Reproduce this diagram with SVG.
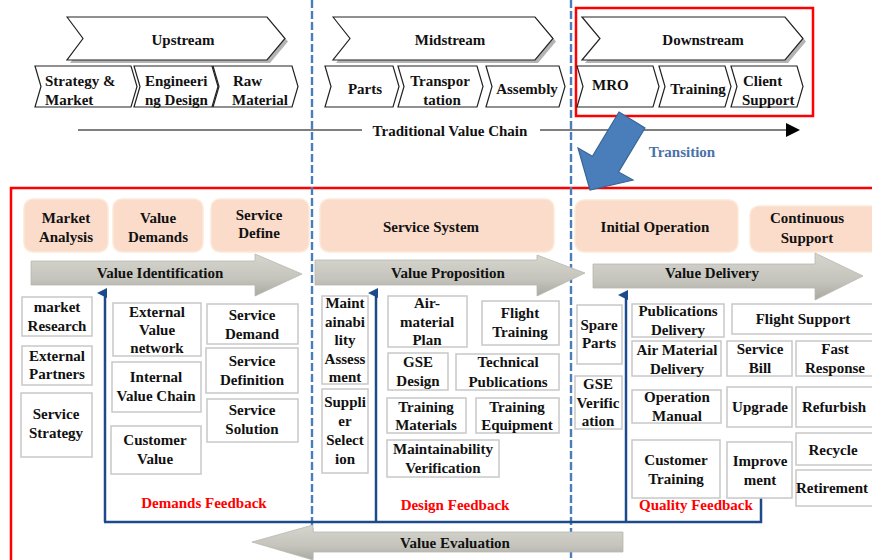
<svg xmlns="http://www.w3.org/2000/svg" width="872" height="560" viewBox="0 0 872 560">
<defs>
<style>
.t{font-family:"Liberation Serif","Times New Roman",serif;font-weight:bold;font-size:15px;fill:#111;text-anchor:middle}
.ts{text-anchor:start}
.red{fill:#ff0000}
.chev{fill:#fff;stroke:#222;stroke-width:1.2}
.shadow{fill:#b4b4b4}
.peach{fill:#fbdccb;stroke:#fce9d6;stroke-width:1.5}
.box{fill:#fff;stroke:#c8c8c8;stroke-width:1.5}
.gray{fill:url(#gg);stroke:#b8b8b0;stroke-width:0.8}
.dash{stroke:#4a7ebb;stroke-width:2.4;stroke-dasharray:8 3;fill:none}
.navy{stroke:#1c4b8c;stroke-width:2.5;fill:none}
</style>
<linearGradient id="gg" x1="0" y1="0" x2="0" y2="1">
<stop offset="0" stop-color="#d6d6ce"/>
<stop offset="0.6" stop-color="#c4c4bc"/>
<stop offset="1" stop-color="#a9a9a1"/>
</linearGradient>
<marker id="na" markerWidth="10" markerHeight="10" refX="5" refY="8" orient="auto" markerUnits="userSpaceOnUse" viewBox="0 0 10 10">
<path d="M0,10 L5,0 L10,10 Z" fill="#1c4b8c"/>
</marker>
<marker id="ka" markerWidth="14" markerHeight="14" refX="12" refY="7" orient="auto" markerUnits="userSpaceOnUse" viewBox="0 0 14 14">
<path d="M0,0 L14,7 L0,14 Z" fill="#000"/>
</marker>
</defs>
<rect width="872" height="560" fill="#fff"/>

<g id="frames">
<rect x="576" y="8" width="237" height="108" fill="none" stroke="#ff0000" stroke-width="2.5"/>
<rect x="11" y="188" width="880" height="400" fill="none" stroke="#ff0000" stroke-width="2.5"/>
</g>

<g id="dividers">
<line x1="312" y1="0" x2="312" y2="560" class="dash"/>
<line x1="571" y1="0" x2="571" y2="560" class="dash"/>
</g>

<g id="traditional-chain">
<line x1="78" y1="130" x2="362" y2="130" stroke="#555" stroke-width="1.5"/>
<line x1="540" y1="130" x2="798" y2="130" stroke="#555" stroke-width="1.5" marker-end="url(#ka)"/>
<text class="t" x="450" y="136">Traditional Value Chain</text>
</g>

<g id="upstream">
<polygon class="shadow" points="70,20 86,41.5 70,63 270,63 288,41.5 270,20"/>
<polygon class="chev" points="67,17 83,38.5 67,60 267,60 285,38.5 267,17"/>
<text class="t" x="183" y="45">Upstream</text>
</g>
<g id="strategy-market">
<polygon class="chev" points="35,66 41,86.5 35,107 131,107 137,86.5 131,66"/>
<text class="t ts" x="45" y="86">Strategy &amp;<tspan x="45" dy="19">Market</tspan></text>
</g>
<g id="engineering-design">
<polygon class="chev" points="134,66 140,86.5 134,107 212,107 218,86.5 212,66"/>
<text class="t ts" x="145" y="86">Engineeri<tspan x="145" dy="19">ng Design</tspan></text>
</g>
<g id="raw-material">
<polygon class="chev" points="213,66 219,86.5 213,107 292,107 298,86.5 292,66"/>
<text class="t ts" x="233" y="86">Raw<tspan x="232" dy="19">Material</tspan></text>
</g>

<g id="midstream">
<polygon class="shadow" points="336,20 353,41.5 336,63 538,63 556,41.5 538,20"/>
<polygon class="chev" points="333,17 350,38.5 333,60 535,60 553,38.5 535,17"/>
<text class="t" x="450" y="45">Midstream</text>
</g>
<g id="parts">
<polygon class="chev" points="325,66 331,86.5 325,107 393,107 399,86.5 393,66"/>
<text class="t" x="365" y="94">Parts</text>
</g>
<g id="transportation">
<polygon class="chev" points="398,66 404,86.5 398,107 477,107 483,86.5 477,66"/>
<text class="t" x="440" y="86">Transpor<tspan x="442" dy="19">tation</tspan></text>
</g>
<g id="assembly">
<polygon class="chev" points="486,66 492,86.5 486,107 559,107 565,86.5 559,66"/>
<text class="t" x="527" y="94">Assembly</text>
</g>

<g id="downstream">
<polygon class="shadow" points="585,20 603,41.5 585,63 788,63 806,41.5 788,20"/>
<polygon class="chev" points="582,17 600,38.5 582,60 785,60 803,38.5 785,17"/>
<text class="t" x="703" y="45">Downstream</text>
</g>
<g id="mro">
<polygon class="chev" points="577,66 583,86.5 577,107 653,107 659,86.5 653,66"/>
<text class="t ts" x="592" y="90">MRO</text>
</g>
<g id="training">
<polygon class="chev" points="659,66 665,86.5 659,107 725,107 731,86.5 725,66"/>
<text class="t" x="698" y="94">Training</text>
</g>
<g id="client-support">
<polygon class="chev" points="731,66 737,86.5 731,107 797,107 803,86.5 797,66"/>
<text class="t ts" x="743" y="86">Client<tspan x="742" dy="19">Support</tspan></text>
</g>

<g id="transition">
<polygon points="619,112 645,128 618.6,171.9 633,180 590,190 578,148 592.4,156.3" fill="#4a7ebb" stroke="#3a6494" stroke-width="1.2"/>
<text class="t" x="682" y="157" style="fill:#4a72a8">Transition</text>
</g>

<g id="stages">
<g id="market-analysis"><rect class="peach" x="24" y="199" width="84" height="53" rx="9"/><text class="t" x="66" y="223">Market<tspan x="66" dy="19">Analysis</tspan></text></g>
<g id="value-demands"><rect class="peach" x="113" y="199" width="90" height="53" rx="9"/><text class="t" x="158" y="223">Value<tspan x="158" dy="19">Demands</tspan></text></g>
<g id="service-define"><rect class="peach" x="211" y="199" width="98" height="53" rx="9"/><text class="t" x="259" y="220">Service<tspan x="259" dy="18">Define</tspan></text></g>
<g id="service-system"><rect class="peach" x="320" y="199" width="234" height="53" rx="9"/><text class="t" x="431" y="232">Service System</text></g>
<g id="initial-operation"><rect class="peach" x="575" y="200" width="163" height="52" rx="9"/><text class="t" x="655" y="232">Initial Operation</text></g>
<g id="continuous-support"><rect class="peach" x="750" y="206" width="130" height="46" rx="9"/><text class="t" x="807" y="223">Continuous<tspan x="807" dy="20">Support</tspan></text></g>
</g>

<g id="value-arrows">
<g id="value-identification"><polygon class="gray" points="31,261 255,261 255,254 302,274 255,296 255,285 31,285"/><text class="t" x="160" y="278">Value Identification</text></g>
<g id="value-proposition"><polygon class="gray" points="315,260 537,260 537,255 585,273 537,296 537,285 315,285"/><text class="t" x="448" y="278">Value Proposition</text></g>
<g id="value-delivery"><polygon class="gray" points="593,264 815,264 815,253 863,276 815,300 815,288 593,288"/><text class="t" x="712" y="278">Value Delivery</text></g>
<g id="value-evaluation"><polygon class="gray" points="623,532 313,532 313,525 252,542 313,560 313,552 623,552"/><text class="t" x="455" y="548">Value Evaluation</text></g>
</g>

<g id="connectors">
<path class="navy" d="M105,522 L105,293" marker-end="url(#na)"/>
<path class="navy" d="M376,522 L376,293" marker-end="url(#na)"/>
<path class="navy" d="M626,522 L626,295" marker-end="url(#na)"/>
<path class="navy" d="M104,522 L761,522 L761,498"/>
</g>

<g id="identification-items">
<g id="market-research"><rect class="box" x="22" y="297" width="70" height="39"/><text class="t" x="57" y="312">market<tspan x="57" dy="19">Research</tspan></text></g>
<g id="external-partners"><rect class="box" x="22" y="346" width="70" height="39"/><text class="t" x="57" y="361">External<tspan x="57" dy="18">Partners</tspan></text></g>
<g id="service-strategy"><rect class="box" x="21" y="393" width="71" height="64"/><text class="t" x="56" y="419">Service<tspan x="56" dy="19">Strategy</tspan></text></g>
<g id="external-value-network"><rect class="box" x="113" y="303" width="88" height="53"/><text class="t" x="157" y="317">External<tspan x="157" dy="18">Value</tspan><tspan x="157" dy="18">network</tspan></text></g>
<g id="internal-value-chain"><rect class="box" x="112" y="362" width="89" height="50"/><text class="t" x="156" y="382">Internal<tspan x="156" dy="19">Value Chain</tspan></text></g>
<g id="customer-value"><rect class="box" x="111" y="426" width="90" height="48"/><text class="t" x="155" y="445">Customer<tspan x="155" dy="19">Value</tspan></text></g>
<g id="service-demand"><rect class="box" x="207" y="304" width="91" height="40"/><text class="t" x="252" y="320">Service<tspan x="252" dy="19">Demand</tspan></text></g>
<g id="service-definition"><rect class="box" x="206" y="348" width="92" height="45"/><text class="t" x="252" y="366">Service<tspan x="252" dy="19">Definition</tspan></text></g>
<g id="service-solution"><rect class="box" x="207" y="399" width="91" height="43"/><text class="t" x="252" y="415">Service<tspan x="252" dy="19">Solution</tspan></text></g>
<text class="t red" x="204" y="508">Demands Feedback</text>
</g>

<g id="proposition-items">
<g id="maintainability-assessment"><rect class="box" x="322" y="296" width="46" height="88"/><text class="t" x="345" y="308">Maint<tspan x="345" dy="18.5">ainabi</tspan><tspan x="345" dy="18.5">lity</tspan><tspan x="345" dy="18.5">Assess</tspan><tspan x="345" dy="18.5">ment</tspan></text></g>
<g id="supplier-selection"><rect class="box" x="322" y="389" width="46" height="84"/><text class="t" x="345" y="407">Suppli<tspan x="345" dy="19">er</tspan><tspan x="345" dy="19">Select</tspan><tspan x="345" dy="19">ion</tspan></text></g>
<g id="air-material-plan"><rect class="box" x="388" y="296" width="79" height="51"/><text class="t" x="427" y="308">Air-<tspan x="427" dy="19">material</tspan><tspan x="427" dy="18">Plan</tspan></text></g>
<g id="flight-training"><rect class="box" x="482" y="301" width="77" height="44"/><text class="t" x="520" y="318">Flight<tspan x="520" dy="19">Training</tspan></text></g>
<g id="gse-design"><rect class="box" x="388" y="353" width="60" height="37"/><text class="t" x="418" y="367">GSE<tspan x="418" dy="19">Design</tspan></text></g>
<g id="technical-publications"><rect class="box" x="456" y="354" width="103" height="36"/><text class="t" x="508" y="367">Technical<tspan x="508" dy="20">Publications</tspan></text></g>
<g id="training-materials"><rect class="box" x="387" y="398" width="79" height="35"/><text class="t" x="426" y="412">Training<tspan x="426" dy="18">Materials</tspan></text></g>
<g id="training-equipment"><rect class="box" x="476" y="398" width="83" height="35"/><text class="t" x="517" y="412">Training<tspan x="517" dy="18">Equipment</tspan></text></g>
<g id="maintainability-verification"><rect class="box" x="387" y="440" width="112" height="37"/><text class="t" x="443" y="454">Maintainability<tspan x="443" dy="19">Verification</tspan></text></g>
<text class="t red" x="455" y="510">Design Feedback</text>
</g>

<g id="delivery-items">
<g id="spare-parts"><rect class="box" x="577" y="305" width="45" height="59"/><text class="t" x="599" y="330">Spare<tspan x="599" dy="18">Parts</tspan></text></g>
<g id="gse-verification"><rect class="box" x="575" y="376" width="47" height="53"/><text class="t" x="598" y="389">GSE<tspan x="598" dy="19">Verific</tspan><tspan x="598" dy="18">ation</tspan></text></g>
<g id="publications-delivery"><rect class="box" x="632" y="304" width="92" height="33"/><text class="t" x="678" y="316">Publications<tspan x="678" dy="19">Delivery</tspan></text></g>
<g id="air-material-delivery"><rect class="box" x="632" y="341" width="89" height="35"/><text class="t" x="677" y="355">Air Material<tspan x="677" dy="19">Delivery</tspan></text></g>
<g id="operation-manual"><rect class="box" x="632" y="390" width="89" height="33"/><text class="t" x="677" y="402">Operation<tspan x="677" dy="19">Manual</tspan></text></g>
<g id="customer-training"><rect class="box" x="632" y="440" width="88" height="58"/><text class="t" x="676" y="465">Customer<tspan x="676" dy="19">Training</tspan></text></g>
<g id="flight-support"><rect class="box" x="732" y="304" width="145" height="30"/><text class="t" x="803" y="324">Flight Support</text></g>
<g id="service-bill"><rect class="box" x="727" y="341" width="65" height="35"/><text class="t" x="760" y="354">Service<tspan x="760" dy="19">Bill</tspan></text></g>
<g id="fast-response"><rect class="box" x="796" y="341" width="82" height="35"/><text class="t" x="835" y="354">Fast<tspan x="835" dy="19">Response</tspan></text></g>
<g id="upgrade"><rect class="box" x="727" y="387" width="65" height="40"/><text class="t" x="760" y="412">Upgrade</text></g>
<g id="refurbish"><rect class="box" x="796" y="387" width="82" height="40"/><text class="t" x="834" y="412">Refurbish</text></g>
<g id="improvement"><rect class="box" x="727" y="442" width="65" height="56"/><text class="t" x="760" y="466">Improve<tspan x="760" dy="19">ment</tspan></text></g>
<g id="recycle"><rect class="box" x="796" y="433" width="82" height="32"/><text class="t" x="833" y="455">Recycle</text></g>
<g id="retirement"><rect class="box" x="796" y="470" width="82" height="36"/><text class="t" x="832" y="493">Retirement</text></g>
<text class="t red" x="696" y="510">Quality Feedback</text>
</g>
</svg>
